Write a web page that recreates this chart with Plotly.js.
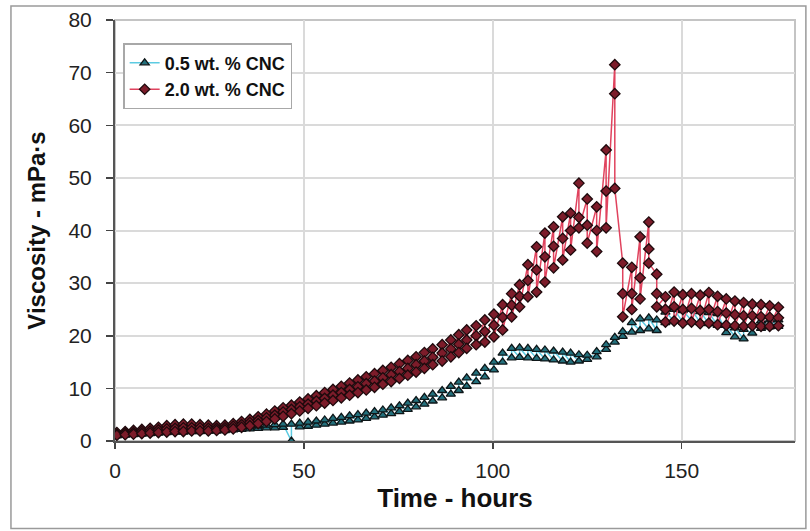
<!DOCTYPE html>
<html>
<head>
<meta charset="utf-8">
<script src="https://cdn.plot.ly/plotly-3.0.1.min.js"></script>
<style>
  html, body { margin: 0; padding: 0; background: #ffffff; }
  #chart { width: 810px; height: 531px; }
</style>
</head>
<body>
<div id="chart"></div>
<script>
// Sampling times (hours); each time carries a small stack of repeated readings
const hours = [
  0.5, 2.7, 4.9, 7.1, 9.3, 11.5, 13.7, 15.9, 18.1, 20.3,
  22.5, 24.7, 26.9, 29.1, 31.3, 33.5, 35.7, 37.9, 40.1, 42.3,
  44.5, 46.7, 48.9, 51.1, 53.3, 55.5, 57.7, 59.9, 62.1, 64.3,
  66.5, 68.7, 70.9, 73.1, 75.3, 77.5, 79.7, 81.9, 84.1, 86.6,
  88.9, 91.0, 93.1, 95.6, 97.9, 100.3, 102.6, 105.0, 107.1, 109.3,
  111.6, 113.8, 116.1, 118.5, 120.6, 122.8, 125.0, 127.5, 130.0, 132.3,
  134.4, 136.8, 139.0, 141.3, 143.4, 145.7, 148.0, 150.3, 152.6, 154.9,
  157.2, 159.5, 161.8, 164.1, 166.4, 168.7, 171.0, 173.3, 175.6
];

// 0.5 wt. % CNC viscosity (mPa·s): lowest and highest reading at each time
const cnc05Low = [
  1.0, 1.1, 1.2, 1.3, 1.4, 1.5, 1.6, 1.7, 1.7, 1.8,
  1.8, 1.9, 1.9, 2.0, 2.1, 2.2, 2.3, 2.4, 2.5, 2.5,
  2.6, 0.0, 2.7, 2.8, 3.0, 3.2, 3.4, 3.6, 3.8, 4.0,
  4.3, 4.6, 4.9, 5.2, 5.6, 6.0, 6.5, 7.0, 7.6, 8.2,
  8.9, 9.6, 10.4, 11.3, 12.2, 13.5, 15.0, 15.8, 15.9, 15.8,
  15.7, 15.6, 15.4, 15.2, 15.0, 15.2, 15.5, 16.0, 17.4, 18.8,
  19.9, 20.7, 21.0, 21.3, 21.0, 22.5, 22.8, 22.6, 22.9, 22.5,
  22.3, 22.0, 20.6, 19.8, 19.4, 20.5, 21.4, 21.7, 21.8
];
const cnc05High = [
  1.4, 1.6, 1.7, 1.9, 2.0, 2.2, 2.4, 2.5, 2.6, 2.6,
  2.6, 2.6, 2.5, 2.5, 2.6, 2.7, 2.8, 2.9, 3.0, 3.1,
  3.2, 3.2, 3.4, 3.6, 3.8, 4.0, 4.3, 4.5, 4.8, 5.0,
  5.3, 5.6, 5.9, 6.3, 6.7, 7.2, 7.7, 8.3, 8.9, 9.6,
  10.4, 11.2, 12.0, 12.9, 13.8, 15.0, 16.7, 17.6, 17.7, 17.6,
  17.4, 17.3, 17.1, 16.9, 16.7, 16.4, 16.3, 17.0, 18.3, 19.7,
  20.8, 22.5, 23.2, 23.4, 23.0, 24.5, 25.0, 24.8, 25.0, 24.6,
  24.4, 24.2, 22.0, 21.5, 21.2, 22.2, 22.8, 23.0, 23.0
];

// 2.0 wt. % CNC viscosity (mPa·s): low, middle and high reading at each time
const cnc20Low = [
  1.1, 1.2, 1.3, 1.4, 1.5, 1.6, 1.7, 1.8, 1.8, 1.9,
  1.9, 1.9, 2.0, 2.1, 2.3, 2.6, 2.9, 3.3, 3.7, 4.2,
  4.7, 5.2, 5.7, 6.2, 6.7, 7.2, 7.7, 8.2, 8.7, 9.2,
  9.7, 10.2, 10.8, 11.3, 11.9, 12.5, 13.1, 13.8, 14.5, 15.2,
  16.0, 16.8, 17.6, 18.3, 18.8, 19.8, 21.1, 23.6, 25.5, 27.4,
  28.3, 30.2, 32.9, 34.4, 36.3, 40.5, 37.6, 36.0, 40.5, 48.0,
  23.6, 25.0, 27.0, 33.8, 25.5, 22.6, 22.8, 22.4, 22.6, 22.3,
  22.4, 22.1, 22.0, 21.9, 21.8, 21.9, 21.8, 21.8, 21.9
];
const cnc20Mid = [
  1.3, 1.5, 1.6, 1.8, 1.9, 2.1, 2.3, 2.4, 2.5, 2.5,
  2.5, 2.4, 2.4, 2.5, 2.8, 3.1, 3.5, 3.9, 4.4, 4.9,
  5.5, 6.0, 6.5, 7.0, 7.6, 8.1, 8.7, 9.2, 9.8, 10.3,
  10.9, 11.4, 12.0, 12.6, 13.2, 13.8, 14.5, 15.2, 15.9, 16.7,
  17.5, 18.4, 19.2, 20.0, 20.8, 22.0, 23.5, 25.8, 27.5, 30.5,
  32.5, 35.0, 37.0, 38.5, 40.0, 42.5, 41.0, 40.0, 47.5, 66.0,
  28.0, 28.0, 31.0, 36.5, 28.0, 25.0, 25.5, 25.0, 25.2, 24.8,
  25.0, 24.6, 24.3, 24.0, 23.8, 23.8, 23.6, 23.5, 23.4
];
const cnc20High = [
  1.6, 1.8, 2.0, 2.2, 2.4, 2.6, 2.9, 3.1, 3.2, 3.2,
  3.1, 3.0, 2.9, 3.0, 3.3, 3.7, 4.1, 4.6, 5.1, 5.7,
  6.3, 6.8, 7.4, 8.0, 8.6, 9.2, 9.8, 10.4, 11.0, 11.6,
  12.2, 12.8, 13.4, 14.0, 14.7, 15.3, 16.0, 16.8, 17.5, 18.3,
  19.2, 20.2, 21.1, 21.9, 23.0, 24.1, 25.9, 28.0, 29.7, 33.5,
  36.9, 39.5, 40.7, 42.6, 43.3, 49.0, 46.0, 44.5, 55.3, 71.5,
  33.8, 33.0, 38.8, 41.6, 31.7, 27.4, 28.3, 27.8, 28.0, 27.7,
  28.2, 27.5, 27.0, 26.6, 26.3, 26.0, 25.9, 25.7, 25.4
];

const seriesNames = ['0.5 wt. % CNC', '2.0 wt. % CNC'];
const xTicks = [0, 50, 100, 150];
const yTicks = [0, 10, 20, 30, 40, 50, 60, 70, 80];

// Expand each time into its stack of readings, in reading order
function stackSeries(times, columns) {
  const xs = [], ys = [];
  times.forEach((t, i) => {
    columns.forEach(col => { xs.push(t); ys.push(col[i]); });
  });
  return { xs, ys };
}

const s05 = stackSeries(hours, [cnc05Low, cnc05High]);
const s20 = stackSeries(hours, [cnc20High, cnc20Mid, cnc20Low]);

const FONT = 'Liberation Sans, Arial, Helvetica, sans-serif';

const traces = [
  {
    x: s05.xs, y: s05.ys, name: seriesNames[0],
    type: 'scatter', mode: 'lines+markers',
    line: { color: '#5ccbe2', width: 1.5 },
    marker: { symbol: 'triangle-up', size: 8, color: '#23707c',
              line: { color: '#0e1618', width: 1.3 } },
    cliponaxis: true
  },
  {
    x: s20.xs, y: s20.ys, name: seriesNames[1],
    type: 'scatter', mode: 'lines+markers',
    line: { color: '#e0435e', width: 1.5 },
    marker: { symbol: 'diamond', size: 8, color: '#7c1c2a',
              line: { color: '#1e0a0d', width: 1.3 } },
    cliponaxis: true
  }
];

const layout = {
  width: 810, height: 531,
  margin: { l: 115, r: 15, t: 20, b: 90 },
  paper_bgcolor: '#ffffff', plot_bgcolor: '#ffffff',
  font: { family: FONT, color: '#111111' },
  showlegend: true,
  legend: {
    x: 0.012, y: 0.945, xanchor: 'left', yanchor: 'top',
    bgcolor: '#ffffff', bordercolor: '#a8a8a8', borderwidth: 1.5,
    font: { family: FONT, size: 18, color: '#111111', weight: 'bold' },
    itemwidth: 30, tracegroupgap: 4
  },
  xaxis: {
    range: [0, 180], tickvals: xTicks, ticktext: xTicks.map(String),
    showgrid: true, gridcolor: '#dadada', gridwidth: 2,
    zeroline: false,
    showline: true, linecolor: '#555555', linewidth: 2,
    ticks: 'outside', ticklen: 6, tickwidth: 1.5, tickcolor: '#444444',
    ticklabelstandoff: 4,
    tickfont: { family: FONT, size: 21, color: '#222222' },
    title: { text: 'Time - hours', standoff: 8,
             font: { family: FONT, size: 26, color: '#111111', weight: 'bold' } }
  },
  yaxis: {
    range: [0, 80], tickvals: yTicks, ticktext: yTicks.map(String),
    showgrid: true, gridcolor: '#dadada', gridwidth: 2,
    zeroline: false,
    showline: true, linecolor: '#555555', linewidth: 2,
    ticks: 'outside', ticklen: 7, tickwidth: 1.5, tickcolor: '#444444',
    ticklabelstandoff: 10,
    tickfont: { family: FONT, size: 21, color: '#222222' },
    title: { text: 'Viscosity - mPa·s', standoff: 16,
             font: { family: FONT, size: 24, color: '#111111', weight: 'bold' } }
  },
  shapes: [
    // light frame round the plotting area
    { type: 'rect', xref: 'paper', yref: 'paper', x0: 0, x1: 1, y0: 0, y1: 1,
      line: { color: '#c4c4c4', width: 2 }, layer: 'below' },
    // outer border of the figure
    { type: 'rect', xref: 'paper', yref: 'paper',
      x0: -0.153, x1: 1.016, y0: -0.208, y1: 1.033,
      line: { color: '#9a9a9a', width: 1.5 }, layer: 'below' }
  ]
};

Plotly.newPlot('chart', traces, layout, { staticPlot: true, displayModeBar: false });
</script>
</body>
</html>
